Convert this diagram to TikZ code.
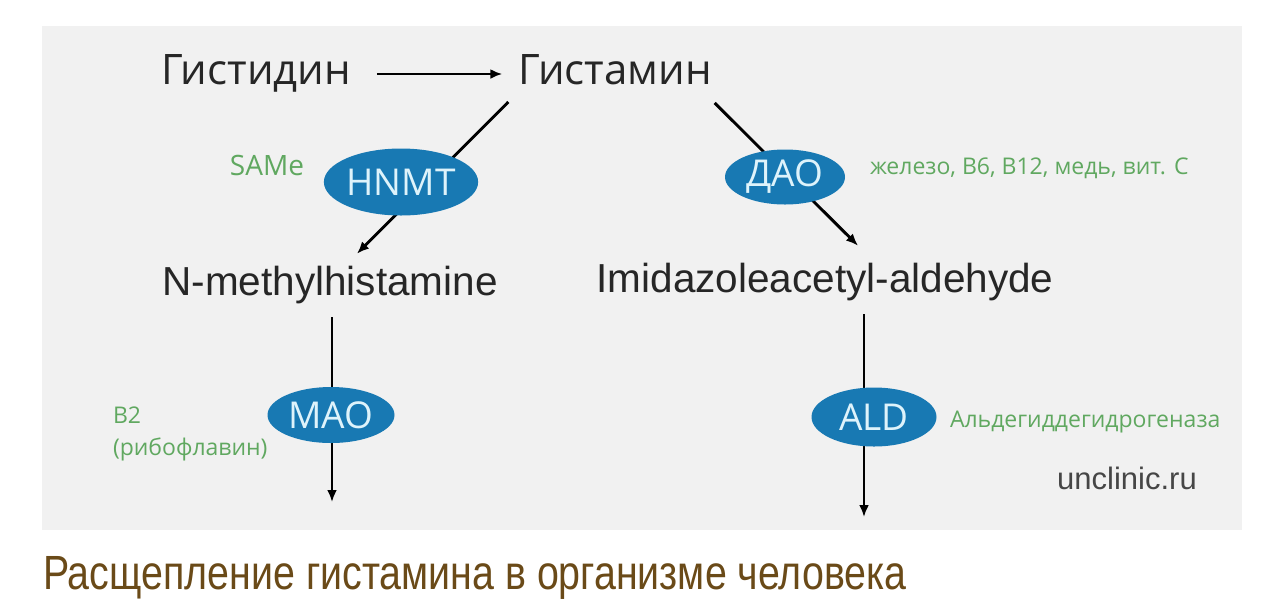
\documentclass[tikz,border=0pt]{standalone}
\usepackage{fontspec}
\setmainfont{Open Sans}
\newfontfamily\helvfont{Liberation Sans}
\newfontfamily\captfont[FakeStretch=0.82]{Liberation Sans}
\usepackage{xcolor}
\usetikzlibrary{positioning,calc,arrows.meta,shapes.geometric}

\definecolor{panelgray}{RGB}{241,241,241}
\definecolor{ink}{RGB}{38,38,38}
\definecolor{enzblue}{RGB}{24,121,179}
\definecolor{enztext}{RGB}{222,243,251}
\definecolor{cofgreen}{RGB}{96,168,96}
\definecolor{sitegray}{RGB}{70,70,70}
\definecolor{captbrown}{RGB}{106,74,24}

\begin{document}
\begin{tikzpicture}[
    x=1pt, y=-1pt,
    every node/.style={inner sep=0pt, outer sep=0pt},
    amino/.style={font=\fontsize{42}{50}\selectfont, text=ink},
    compound/.style={font=\helvfont\fontsize{40.5}{48}\selectfont, text=ink},
    enzyme/.style={ellipse, fill=enzblue, text=enztext, font=\fontsize{37}{44}\selectfont},
    cofactor/.style={font=\fontsize{23}{32}\selectfont, text=cofgreen, align=left},
    reaction/.style={draw=black, line width=2.9pt, -{Latex[length=12pt,width=10pt]}},
]
\useasboundingbox (0,0) rectangle (1284,606);

% =====================================================================
% Gray panel behind the pathway
% =====================================================================
\fill[panelgray] (42,26) rectangle (1242,530);

% =====================================================================
% Compounds
% =====================================================================
\node[amino, anchor=base] (histidine) at (256,84) {Гистидин};
\node[amino, anchor=base] (histamine) at (615,84) {Гистамин};
\node[compound, anchor=base] (nmethyl) at (330,295) {N-methylhistamine};
\node[compound, anchor=base] (imidazole) at (825,292) {Imidazoleacetyl-aldehyde};

% Free ends of the two lower arrows
\coordinate (maoout) at (332,502);
\coordinate (aldout) at (864,517);

% =====================================================================
% Reactions (drawn under the enzyme ellipses)
% =====================================================================
\draw[reaction] ([shift={(26,-10)}]histidine.base east) -- ([shift={(-16,-10)}]histamine.base west);
\draw[reaction] ([shift={(-10,18)}]histamine.base west)
    -- ([shift={(27,-12)}]nmethyl.north);
\draw[reaction] ([shift={(3,19)}]histamine.base east)
    -- ([shift={(33,-17)}]imidazole.north);
\draw[reaction] ([shift={(2,14)}]nmethyl.south) -- (maoout);
\draw[reaction] ([shift={(39,14)}]imidazole.south) -- (aldout);

% =====================================================================
% Enzymes
% =====================================================================
\node[enzyme, minimum width=142pt, minimum height=67pt] (hnmt) at (401,182) {HNMT};
\node[enzyme, minimum width=120pt, minimum height=55pt] (dao) at (785,177) {ДАО};
\node[enzyme, minimum width=127pt, minimum height=56pt] (mao) at (331,415) {MAO};
\node[enzyme, minimum width=125pt, minimum height=59pt] (ald) at (874,417) {ALD};

% =====================================================================
% Cofactors and notes
% =====================================================================
\node[cofactor, font=\fontsize{28}{32}\selectfont, anchor=base] (same) at (267,175) {SAMe};
\node[cofactor, anchor=base west] (daocof) at (870,174) {железо, В6, В12, медь, вит. С};
\node[cofactor, anchor=west] (maocof) at (113,434) {В2\\(рибофлавин)};
\node[cofactor, anchor=base west] (aldcof) at (950,427) {Альдегиддегидрогеназа};
\node[font=\helvfont\fontsize{31}{36}\selectfont, text=sitegray, anchor=base] (site)
    at (1127,489) {unclinic.ru};

% =====================================================================
% Caption below the panel
% =====================================================================
\node[font=\captfont\fontsize{48}{56}\selectfont, text=captbrown, anchor=base west] (caption)
    at (43,589) {Расщепление гистамина в организме человека};

\end{tikzpicture}
\end{document}
